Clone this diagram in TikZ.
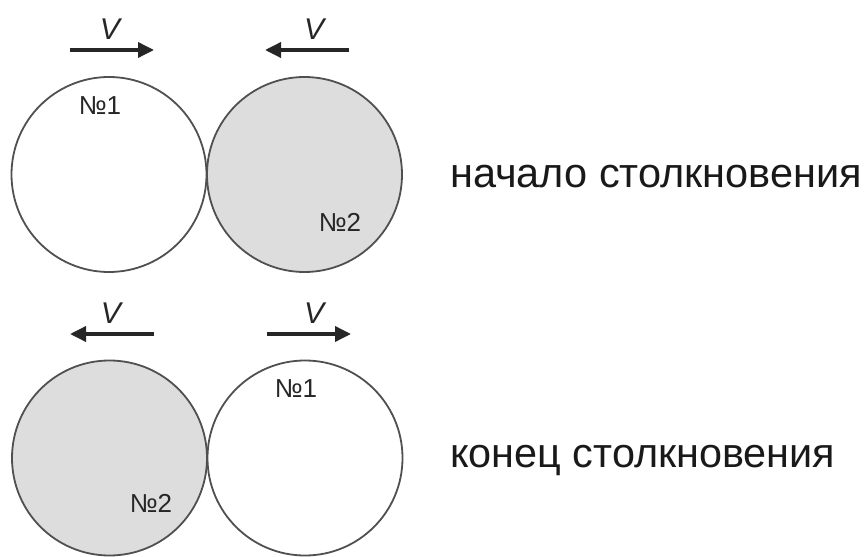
\documentclass[tikz,border=0pt]{standalone}
\usepackage{fontspec}
\setmainfont{Liberation Sans}
\usetikzlibrary{arrows.meta}
\definecolor{ballline}{HTML}{505050}
\definecolor{ballfill}{HTML}{DDDDDD}
\tikzset{
  ball/.style={circle, draw=ballline, line width=1.8pt, minimum size=195pt, inner sep=0pt},
  num/.style={font=\fontsize{26}{30}\selectfont, text=black!85, inner sep=0pt},
  vel/.style={font=\fontsize{30}{34}\selectfont\itshape, text=black!85, inner sep=0pt},
  varrow/.style={line width=3.5pt, black!85, -{Triangle[length=16pt,width=15pt]}},
  caption/.style={font=\fontsize{46}{50}\selectfont, text=black!90, inner sep=0pt, anchor=base west}
}
\begin{document}
\begin{tikzpicture}[x=1pt,y=-1pt]
\useasboundingbox (0,0) rectangle (866,556);
% top row
\node[ball, fill=white] (b1t) at (109,174.5) {};
\node[ball, fill=ballfill] (b2t) at (304.5,174.5) {};
\node[num] (n1t) at (100,106) {№1};
\node[num] (n2t) at (340,222) {№2};
\coordinate (a1s) at (70,50);
\coordinate (a1e) at (154,50);
\coordinate (a2s) at (349,50);
\coordinate (a2e) at (265,50);
\draw[varrow] (a1s) -- (a1e);
\draw[varrow] (a2s) -- (a2e);
\node[vel] (v1t) at (110,29) {V};
\node[vel] (v2t) at (314,29) {V};
\node[caption] (ct) at (450,187) {\resizebox{412pt}{!}{начало столкновения}};
% bottom row
\node[ball, fill=ballfill] (b2b) at (109.5,458) {};
\node[ball, fill=white] (b1b) at (305,458) {};
\node[num] (n1b) at (296,389) {№1};
\node[num] (n2b) at (151,503) {№2};
\coordinate (a3s) at (154,334);
\coordinate (a3e) at (70,334);
\coordinate (a4s) at (267,334);
\coordinate (a4e) at (351,334);
\draw[varrow] (a3s) -- (a3e);
\draw[varrow] (a4s) -- (a4e);
\node[vel] (v1b) at (111,313) {V};
\node[vel] (v2b) at (314,313) {V};
\node[caption] (cb) at (450,467) {\resizebox{385pt}{!}{конец столкновения}};
\end{tikzpicture}
\end{document}
